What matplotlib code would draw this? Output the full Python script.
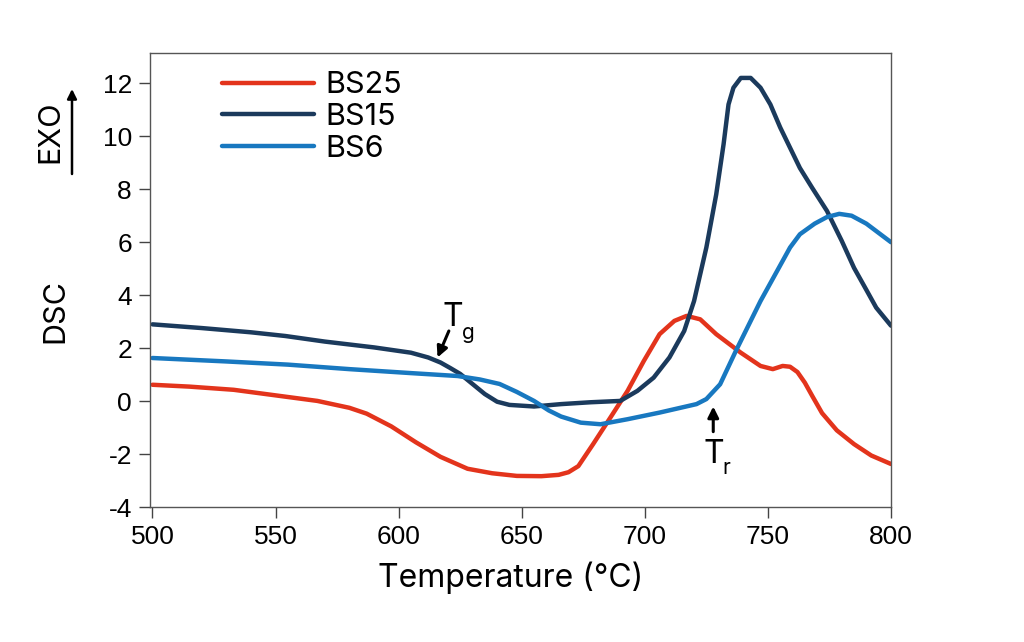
import matplotlib
matplotlib.use('Agg')
import matplotlib.pyplot as plt
from matplotlib.patches import FancyArrowPatch

# Temperature (degC) / DSC signal
BS25_T = [500, 515, 533, 550, 567, 580, 587, 597, 607, 617, 628, 638, 648, 658, 665,
          669, 673, 679, 686, 693, 699.6, 706, 712, 717, 722.5, 729, 739, 747, 752,
          756, 759, 762, 765, 768, 772, 778, 785, 792, 800]
BS25_Y = [0.62, 0.55, 0.43, 0.22, 0.01, -0.25, -0.47, -0.95, -1.55, -2.1, -2.55, -2.72,
          -2.82, -2.83, -2.78, -2.68, -2.45, -1.62, -0.62, 0.39, 1.52, 2.53, 3.03, 3.22,
          3.09, 2.53, 1.83, 1.33, 1.21, 1.33, 1.3, 1.1, 0.7, 0.2, -0.45, -1.1, -1.62,
          -2.05, -2.37]

BS15_T = [500, 520, 540, 554, 570, 590, 605, 612, 617, 621, 625, 630, 635, 640, 645,
          655, 666, 678, 690, 697, 703.6, 710, 716, 720, 725, 729, 732, 734, 736, 739,
          743, 747, 751, 755, 763, 768, 774, 780, 785, 790, 794, 800]
BS15_Y = [2.9, 2.76, 2.6, 2.46, 2.25, 2.03, 1.83, 1.65, 1.46, 1.25, 1.03, 0.65, 0.27,
          -0.02, -0.14, -0.2, -0.11, -0.04, 0.01, 0.39, 0.89, 1.65, 2.65, 3.78, 5.8, 7.8,
          9.7, 11.2, 11.83, 12.2, 12.2, 11.83, 11.2, 10.33, 8.8, 8.05, 7.18, 6.05, 5.03,
          4.2, 3.53, 2.85]

BS6_T = [500, 530, 555, 580, 605, 624, 633, 641, 648, 655, 661, 666, 674, 682, 693,
         706, 721, 725, 730.6, 737, 747, 759, 763, 769, 774, 779, 784, 790, 795, 800]
BS6_Y = [1.63, 1.5, 1.38, 1.21, 1.06, 0.95, 0.82, 0.65, 0.35, 0.01, -0.35, -0.58,
         -0.81, -0.87, -0.68, -0.43, -0.11, 0.08, 0.64, 1.9, 3.78, 5.8, 6.3, 6.7, 6.95,
         7.07, 7.0, 6.7, 6.35, 6.0]

X_TICKS = [500, 550, 600, 650, 700, 750, 800]
Y_TICKS = [-4, -2, 0, 2, 4, 6, 8, 10, 12]

RED = '#e3341c'
NAVY = '#1b3a5c'
BLUE = '#1878c0'

plt.rcParams['font.family'] = ['Inter', 'DejaVu Sans']
plt.rcParams['axes.unicode_minus'] = False

fig = plt.figure(figsize=(10.24, 6.42), dpi=100)
ax = fig.add_axes([0.1465, 0.21, 0.7236, 0.707])

for xs, ys, col, name in [(BS25_T, BS25_Y, RED, 'BS25'),
                          (BS15_T, BS15_Y, NAVY, 'BS15'),
                          (BS6_T, BS6_Y, BLUE, 'BS6')]:
    ax.plot(xs, ys, color=col, lw=3.2, label=name,
            solid_capstyle='round', solid_joinstyle='round')

ax.set_xlim(499, 800)
ax.set_ylim(-4, 13.13)
ax.set_xticks(X_TICKS)
ax.set_yticks(Y_TICKS)
ax.tick_params(direction='out', length=8, width=1, color='#444444', labelsize=19, pad=5)
for lab in ax.get_xticklabels() + ax.get_yticklabels():
    lab.set_family(['Liberation Sans', 'DejaVu Sans'])
for sp in ax.spines.values():
    sp.set_color('#555555')
    sp.set_linewidth(1)

ax.legend(loc='upper left', bbox_to_anchor=(0.097, 0.96), frameon=False,
          fontsize=22, handlelength=3.0, handletextpad=0.4, labelspacing=0.12,
          borderpad=0, borderaxespad=0)

arrow_kw = dict(arrowstyle='-|>', color='black', lw=2.2, mutation_scale=16,
                shrinkA=0, shrinkB=0)

# Tg marker
ax.annotate('', xy=(615.8, 1.65), xytext=(620.4, 2.65), arrowprops=arrow_kw)
ax.text(622.2, 2.84, 'T', fontsize=23, ha='center', va='baseline')
ax.text(628.5, 2.35, 'g', fontsize=15, ha='center', va='baseline')

# Tr marker
ax.annotate('', xy=(727.8, -0.2), xytext=(727.8, -1.15), arrowprops=arrow_kw)
ax.text(728, -2.33, 'T', fontsize=23, ha='center', va='baseline')
ax.text(733, -2.74, 'r', fontsize=15, ha='center', va='baseline')

# y axis labels
fig.text(50 / 1024, 1 - 132 / 642, 'EXO', rotation=90, fontsize=22, ha='center', va='center')
fig.text(55 / 1024, 1 - 311 / 642, 'DSC', rotation=90, fontsize=22, ha='center', va='center')
fig.patches.append(FancyArrowPatch(
    (72 / 1024, 1 - 174 / 642), (72 / 1024, 1 - 89 / 642), transform=fig.transFigure,
    arrowstyle='-|>', mutation_scale=14, color='black', lw=1.8, shrinkA=0, shrinkB=0))

fig.text(511 / 1024, 1 - 578 / 642, 'Temperature (\u00b0C)', fontsize=23,
         ha='center', va='center')

fig.savefig('out.png', dpi=100)
